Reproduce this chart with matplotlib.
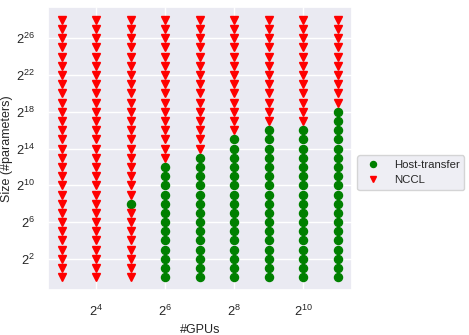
import numpy as np
import matplotlib
matplotlib.use("Agg")
import matplotlib.pyplot as plt
import seaborn as sns

# GPU counts (x) and message sizes in #parameters (y), both powers of two
gpu_counts = [8, 16, 32, 64, 128, 256, 512, 1024, 2048]
size_log2 = list(range(0, 29))

# Faster method per (GPU count, size), sizes listed from 2^0 upward.
# H = Host-transfer, N = NCCL
winners = [
    "NNNNNNNNNNNNNNNNNNNNNNNNNNNNN",  # 8
    "NNNNNNNNNNNNNNNNNNNNNNNNNNNNN",  # 16
    "NNNNNNNNHNNNNNNNNNNNNNNNNNNNN",  # 32
    "HHHHHHHHHHHHHNNNNNNNNNNNNNNNN",  # 64
    "HHHHHHHHHHHHHHNNNNNNNNNNNNNNN",  # 128
    "HHHHHHHHHHHHHHHHNNNNNNNNNNNNN",  # 256
    "HHHHHHHHHHHHHHHHHNNNNNNNNNNNN",  # 512
    "HHHHHHHHHHHHHHHHHNNNNNNNNNNNN",  # 1024
    "HHHHHHHHHHHHHHHHHHHNNNNNNNNNN",  # 2048
]

xtick_log2 = [4, 6, 8, 10]
ytick_log2 = [2, 6, 10, 14, 18, 22, 26]


def split_points(code):
    xs, ys = [], []
    for g, col in zip(gpu_counts, winners):
        for k, c in zip(size_log2, col):
            if c == code:
                xs.append(g)
                ys.append(2.0 ** k)
    return xs, ys


sns.set_theme(style="darkgrid")
plt.rcParams['font.family'] = ['Liberation Sans', 'DejaVu Sans']

fig = plt.figure(figsize=(4.69, 3.35), dpi=100)
ax = fig.add_axes([0.102, 0.134, 0.648, 0.845])

hx, hy = split_points("H")
nx, ny = split_points("N")
ax.plot(hx, hy, linestyle="none", marker="o", color="green", markersize=5.8, label="Host-transfer")
ax.plot(nx, ny, linestyle="none", marker="v", color="red", markersize=6.2, label="NCCL")

ax.set_xscale("log", base=2)
ax.set_yscale("log", base=2)
ax.set_xticks([2 ** k for k in xtick_log2])
ax.set_yticks([2 ** k for k in ytick_log2])
ax.minorticks_off()
ax.tick_params(labelsize=9.3)

ax.set_xlabel("#GPUs", fontsize=9)
ax.set_ylabel("Size (#parameters)", fontsize=9, labelpad=2)
# legend sits outside, a bit below the vertical middle of the axes
ax.legend(loc="center left", bbox_to_anchor=(1.0, 0.415), fontsize=8.2,
          markerscale=0.75)

fig.savefig("out.png", dpi=100)
